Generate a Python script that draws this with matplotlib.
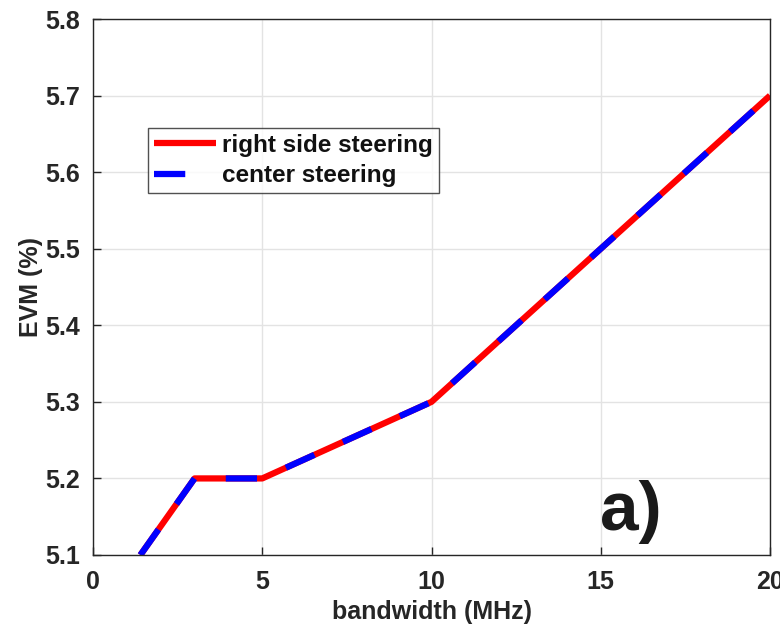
import matplotlib
matplotlib.use('Agg')
import matplotlib.pyplot as plt

# data
bandwidth = [1.4, 3, 5, 10, 20]
evm_right = [5.1, 5.2, 5.2, 5.3, 5.7]
evm_center = [5.1, 5.2, 5.2, 5.3, 5.7]
x_ticks = [0, 5, 10, 15, 20]
y_ticks = [5.1, 5.2, 5.3, 5.4, 5.5, 5.6, 5.7, 5.8]

plt.rcParams['font.family'] = ['Liberation Sans', 'DejaVu Sans']
plt.rcParams['font.weight'] = 'bold'

fig = plt.figure(figsize=(7.8, 6.31), dpi=100)
ax = fig.add_axes([93 / 780, 1 - 555 / 631, 677 / 780, 536 / 631])

# red solid underneath, blue dashed on top
ax.plot(bandwidth, evm_right, color='#ff0000', lw=4.5, label='right side steering',
        solid_capstyle='butt')
ax.plot(bandwidth, evm_center, color='#0000ff', lw=4.5, label='center steering',
        dashes=(5, 5), dash_capstyle='butt')

ax.set_xlim(0, 20)
ax.set_ylim(5.1, 5.8)
ax.set_xticks(x_ticks)
ax.set_yticks(y_ticks)
ax.set_yticklabels([f'{v:.1f}' for v in y_ticks])
ax.tick_params(direction='in', labelsize=18, length=6, width=1, colors='#262626',
               top=False, right=False)
ax.tick_params(axis='x', pad=11)
ax.tick_params(axis='y', pad=9)
for lbl in ax.get_xticklabels() + ax.get_yticklabels():
    lbl.set_fontweight('bold')
ax.grid(True, color='#e3e3e3', lw=1)
ax.set_axisbelow(True)
for sp in ax.spines.values():
    sp.set_color('#262626')
    sp.set_linewidth(1)

ax.set_xlabel('bandwidth (MHz)', fontsize=18, fontweight='bold', color='#262626',
              labelpad=4)
ax.set_ylabel('EVM (%)', fontsize=18, fontweight='bold', color='#262626',
              labelpad=2)

leg = ax.legend(loc='upper left', bbox_to_anchor=(0.081, 0.797), borderaxespad=0,
                fontsize=17.5, frameon=True, fancybox=False, edgecolor='#262626',
                handlelength=2.55, borderpad=0.25, labelspacing=0.3,
                handletextpad=0.25)
leg.get_frame().set_linewidth(1)
for t in leg.get_texts():
    t.set_fontweight('bold')
    t.set_color('#111111')

ax.text(15.9, 5.156, 'a)', fontsize=50, fontweight='bold', ha='center', va='center',
        color='#1a1a1a')

fig.savefig('out.png', dpi=100)
